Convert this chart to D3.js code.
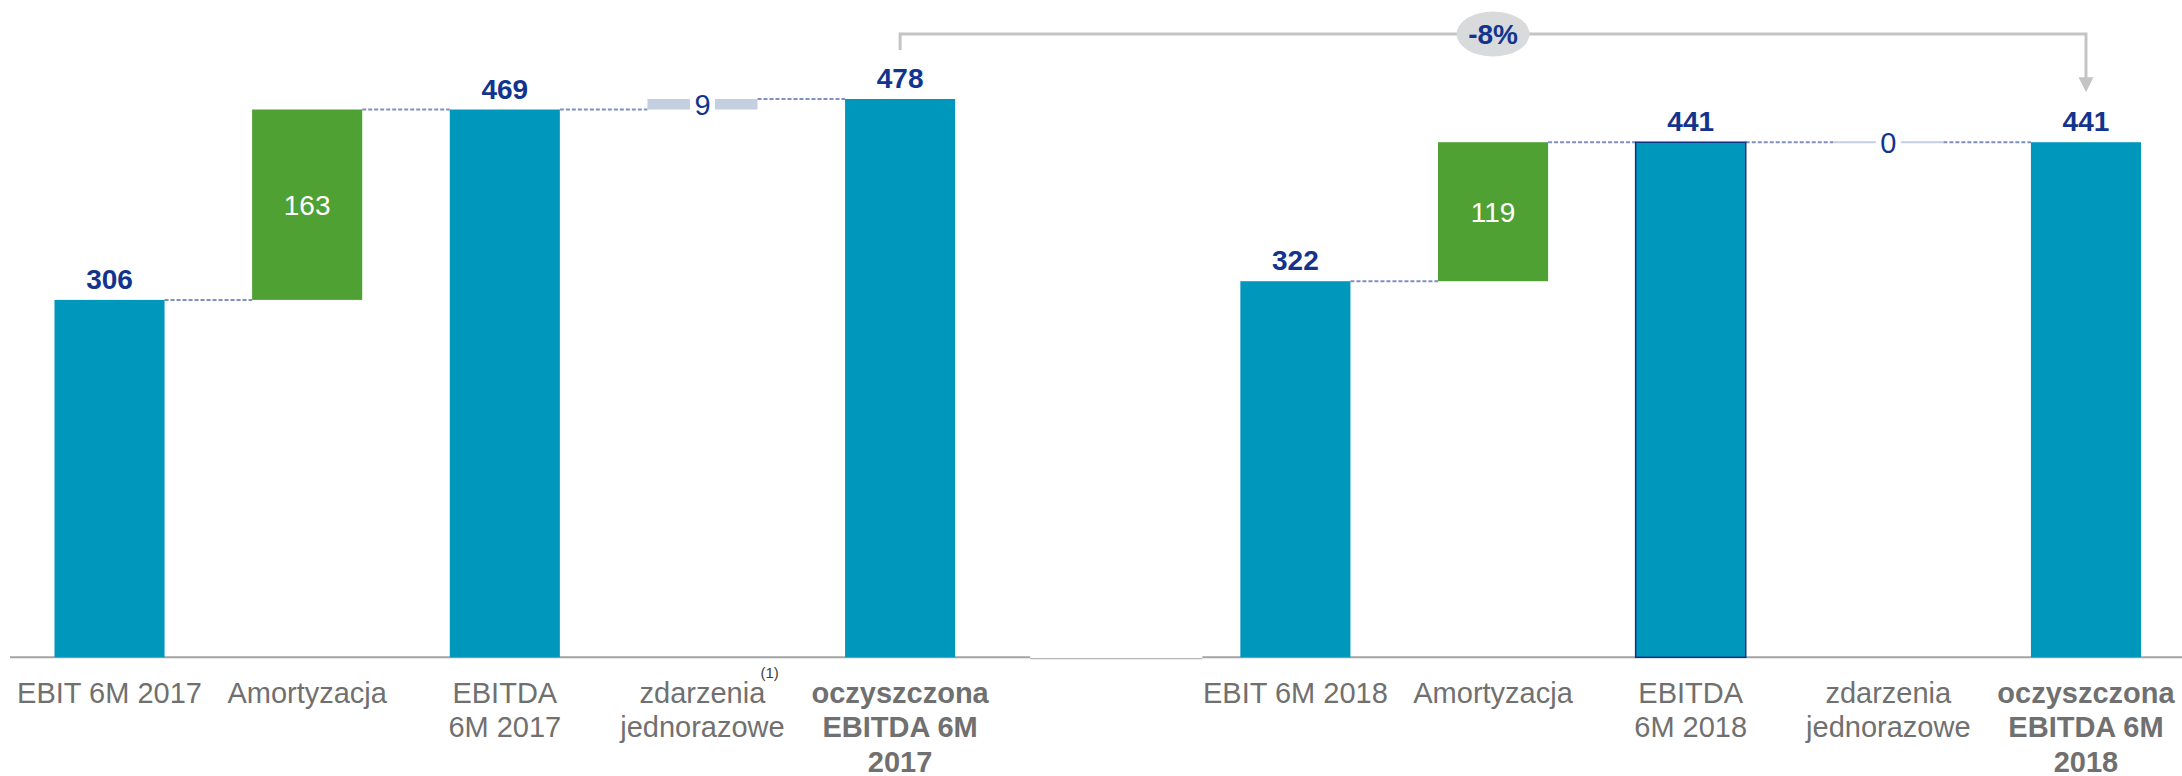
<!DOCTYPE html>
<html>
<head>
<meta charset="utf-8">
<script src="https://cdn.jsdelivr.net/npm/d3@7"></script>
<style>
  html, body { margin: 0; padding: 0; background: #ffffff; }
  svg { display: block; }
  text { font-family: "Liberation Sans", Arial, sans-serif; }
</style>
</head>
<body>
<svg id="chart" width="2182" height="776"></svg>
<script>
// ---------- data ----------
const labels2017 = [["EBIT 6M 2017"], ["Amortyzacja"], ["EBITDA", "6M 2017"], ["zdarzenia", "jednorazowe"], ["oczyszczona", "EBITDA 6M", "2017"]];
const labels2018 = [["EBIT 6M 2018"], ["Amortyzacja"], ["EBITDA", "6M 2018"], ["zdarzenia", "jednorazowe"], ["oczyszczona", "EBITDA 6M", "2018"]];
const kinds = ["total", "depr", "total", "oneoff", "total"];
const values2017 = [306, 163, 469, 9, 478];
const values2018 = [322, 119, 441, 0, 441];
const boldLabel = [false, false, false, false, true];
const footnote = "(1)";
const changeLabel = "-8%";

// ---------- build waterfall rows ----------
function build(group, values, labels) {
  let running = 0;
  return values.map((v, i) => {
    let base, top;
    if (kinds[i] === "total") { base = 0; top = v; running = v; }
    else { base = running; top = running + v; running = top; }
    return { key: group + "-" + i, group, i, value: v, kind: kinds[i], base, top, lines: labels[i], bold: boldLabel[i] };
  });
}
const rows2017 = build("2017", values2017, labels2017);
const rows2018 = build("2018", values2018, labels2018);
const rows = rows2017.concat(rows2018);
const domainKeys = rows2017.map(d => d.key).concat(["gap"], rows2018.map(d => d.key));

// ---------- scales ----------
const svg = d3.select("#chart");
const x = d3.scaleBand().domain(domainKeys).range([10.7, 2184.8]).paddingInner(0.443).paddingOuter(0.2215);
const y = d3.scaleLinear().domain([0, 478]).range([657.3, 99]);

const colors = { total: "#0097bd", depr: "#4ea132", oneoff: "#c5cfe2" };
const valueBlue = "#12348e";
const labelGray = "#707070";
const cx = k => x(k) + x.bandwidth() / 2;

// ---------- baseline ----------
const base = svg.append("g");
const gapLeft = x(rows2017[4].key) + x.bandwidth() + 75;
const gapRight = x(rows2018[0].key) - 38;
base.append("line").attr("x1", 10).attr("x2", gapLeft).attr("y1", y(0)).attr("y2", y(0))
  .attr("stroke", "#a3a3a3").attr("stroke-width", 2);
base.append("line").attr("x1", gapLeft).attr("x2", gapRight).attr("y1", y(0) + 1.3).attr("y2", y(0) + 1.3)
  .attr("stroke", "#b5b5b5").attr("stroke-width", 1.2);
base.append("line").attr("x1", gapRight).attr("x2", 2182).attr("y1", y(0)).attr("y2", y(0))
  .attr("stroke", "#a3a3a3").attr("stroke-width", 2);

// ---------- connectors ----------
function connectors(rs) {
  const out = [];
  for (let i = 0; i < rs.length - 1; i++) {
    const a = rs[i], b = rs[i + 1];
    out.push({ x1: x(a.key) + x.bandwidth(), x2: x(b.key), y: y(a.top) });
  }
  return out;
}
svg.append("g").selectAll("line").data(connectors(rows2017).concat(connectors(rows2018))).join("line")
  .attr("x1", d => d.x1).attr("x2", d => d.x2).attr("y1", d => d.y).attr("y2", d => d.y)
  .attr("stroke", "#7f8fc0").attr("stroke-width", 2).attr("stroke-dasharray", "4,2");

// ---------- bars ----------
svg.append("g").selectAll("rect").data(rows).join("rect")
  .attr("x", d => x(d.key))
  .attr("width", x.bandwidth())
  .attr("y", d => d.kind === "oneoff" && d.value === 0 ? y(d.top) - 1 : y(d.top))
  .attr("height", d => Math.max(y(d.base) - y(d.top), d.kind === "oneoff" ? 2 : 0))
  .attr("fill", d => colors[d.kind])
  .attr("stroke", d => (d.group === "2018" && d.i === 2) ? "#0e2f86" : "none")
  .attr("stroke-width", 1.5);

// ---------- value labels ----------
const vl = svg.append("g");
rows.forEach(d => {
  const c = cx(d.key);
  if (d.kind === "total") {
    vl.append("text").attr("x", c).attr("y", y(d.top) - 11)
      .attr("text-anchor", "middle").attr("font-size", 28).attr("font-weight", "bold")
      .attr("fill", valueBlue).text(d.value);
  } else if (d.kind === "depr") {
    vl.append("text").attr("x", c).attr("y", (y(d.top) + y(d.base)) / 2)
      .attr("dy", "0.36em")
      .attr("text-anchor", "middle").attr("font-size", 28)
      .attr("fill", "#ffffff").text(d.value);
  } else {
    const mid = (y(d.top) + y(d.base)) / 2;
    vl.append("rect").attr("x", c - 12.5).attr("width", 25)
      .attr("y", mid - 8).attr("height", 16).attr("fill", "#ffffff");
    vl.append("text").attr("x", c).attr("y", mid).attr("dy", "0.36em")
      .attr("text-anchor", "middle").attr("font-size", 29)
      .attr("fill", valueBlue).text(d.value);
  }
});

// ---------- category labels ----------
const cl = svg.append("g");
rows.forEach(d => {
  const t = cl.append("text").attr("x", cx(d.key)).attr("y", 703)
    .attr("text-anchor", "middle").attr("font-size", 29)
    .attr("font-weight", d.bold ? "bold" : "normal").attr("fill", labelGray);
  d.lines.forEach((ln, j) => {
    t.append("tspan").attr("x", cx(d.key)).attr("dy", j === 0 ? 0 : 34.3).text(ln);
  });
});
// footnote marker on 2017 one-off label
cl.append("text").attr("x", cx(rows2017[3].key) + 58).attr("y", 678)
  .attr("text-anchor", "start").attr("font-size", 15).attr("fill", "#404040").text(footnote);

// ---------- change bracket ----------
const bx1 = cx(rows2017[4].key), bx2 = cx(rows2018[4].key);
const by = 34;
const br = svg.append("g");
br.append("path")
  .attr("d", `M${bx1},${y(rows2017[4].top) - 49} V${by} H${bx2} V${y(rows2018[4].top) - 60}`)
  .attr("fill", "none").attr("stroke", "#c4c4c4").attr("stroke-width", 3);
const tipY = y(rows2018[4].top) - 50;
br.append("path")
  .attr("d", `M${bx2 - 7.5},${tipY - 15} L${bx2 + 7.5},${tipY - 15} L${bx2},${tipY} Z`)
  .attr("fill", "#c4c4c4");
const pmx = (bx1 + bx2) / 2;
br.append("ellipse").attr("cx", pmx).attr("cy", by).attr("rx", 36.5).attr("ry", 22.5).attr("fill", "#d9dadc");
br.append("text").attr("x", pmx).attr("y", by).attr("dy", "0.36em")
  .attr("text-anchor", "middle").attr("font-size", 28).attr("font-weight", "bold")
  .attr("fill", valueBlue).text(changeLabel);
</script>
</body>
</html>
